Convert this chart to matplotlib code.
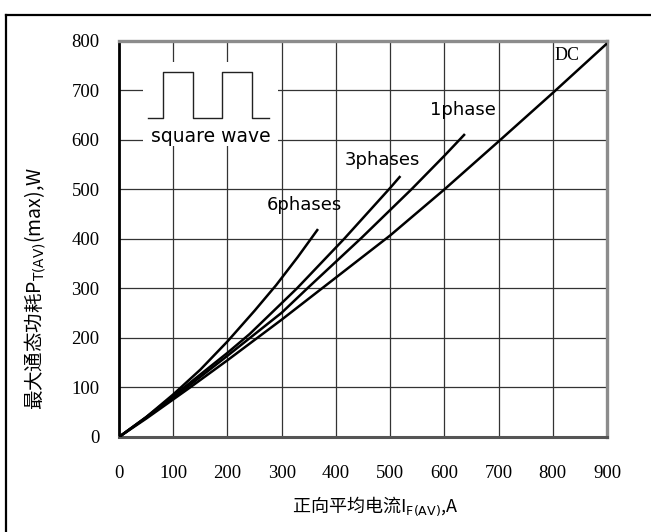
import matplotlib.pyplot as plt
from matplotlib.patches import Rectangle
from matplotlib.lines import Line2D

plt.rcParams['font.family'] = ['Noto Sans CJK SC', 'DejaVu Sans']
plt.rcParams['mathtext.fontset'] = 'dejavusans'

# curves: current I (A) -> power P (W)
dc_i = [0, 50, 131, 200, 300, 400, 500, 600, 700, 800, 900]
dc_p = [0, 37, 100, 155, 237, 322, 407, 500, 597, 695, 795]

ph1_i = [0, 50, 125, 200, 300, 350, 447, 540, 600, 638]
ph1_p = [0, 39, 100, 164, 251, 303, 402, 501, 568, 612]

ph3_i = [0, 50, 120, 200, 241, 328, 415, 500, 519]
ph3_p = [0, 40, 100, 170, 208, 300, 400, 503, 527]

ph6_i = [0, 50, 100, 150, 200, 250, 290, 330, 367]
ph6_p = [0, 40, 86, 136, 193, 255, 307, 364, 420]

x_ticks = list(range(0, 901, 100))
y_ticks = list(range(0, 801, 100))

fig = plt.figure(figsize=(6.51, 5.32), dpi=100)
ax = fig.add_axes([0.1828, 0.1786, 0.7496, 0.7444])

for i, p in [(dc_i, dc_p), (ph1_i, ph1_p), (ph3_i, ph3_p), (ph6_i, ph6_p)]:
    ax.plot(i, p, color='black', lw=1.8, zorder=3, solid_capstyle='butt')

ax.set_xlim(0, 900)
ax.set_ylim(0, 800)
ax.set_xticks(x_ticks)
ax.set_yticks(y_ticks)
ax.grid(True, color='#333333', lw=0.9)
ax.set_axisbelow(True)
ax.tick_params(length=0, labelsize=13.5, pad=0)
ax.tick_params(axis='x', pad=20)
ax.tick_params(axis='y', pad=14)
for lab in ax.get_xticklabels() + ax.get_yticklabels():
    lab.set_family('Liberation Serif')

ax.spines['left'].set_color('black')
ax.spines['left'].set_linewidth(2)
ax.spines['bottom'].set_color('#555555')
ax.spines['bottom'].set_linewidth(2.2)
for s in ['top', 'right']:
    ax.spines[s].set_color('#8c8c8c')
    ax.spines[s].set_linewidth(2.4)

# square wave inset
ax.add_patch(Rectangle((44, 588), 249, 170, facecolor='white', edgecolor='none', zorder=1))
ax.plot([53, 81, 81, 136, 136, 190, 190, 245, 245, 276],
        [644, 644, 737, 737, 644, 644, 737, 737, 644, 644],
        color='#222222', lw=1.0, zorder=2)
ax.text(169, 607, 'square wave', ha='center', va='center', fontsize=13.5,
        family='DejaVu Sans', zorder=4)

ax.text(826, 770, 'DC', ha='center', va='center', fontsize=13, family='Liberation Serif')
ax.text(573, 661, '1phase', ha='left', va='center', fontsize=13, family='DejaVu Sans')
ax.text(416, 560, '3phases', ha='left', va='center', fontsize=13, family='DejaVu Sans')
ax.text(272, 469, '6phases', ha='left', va='center', fontsize=13, family='DejaVu Sans')

ax.set_xlabel('正向平均电流I$_{\\mathrm{F(AV)}}$,A', fontsize=13)
ax.set_ylabel('最大通态功耗P$_{\\mathrm{T(AV)}}$(max),W', fontsize=14)
ax.xaxis.set_label_coords(0.525, -0.146)
ax.yaxis.set_label_coords(-0.145, 0.375)

# outer frame
fig.add_artist(Line2D([0.0095, 0.0095], [0.0, 0.9718], color='black', lw=1.6))
fig.add_artist(Line2D([0.0095, 1.0], [0.9718, 0.9718], color='black', lw=1.6))

fig.savefig('out.png', dpi=100)
